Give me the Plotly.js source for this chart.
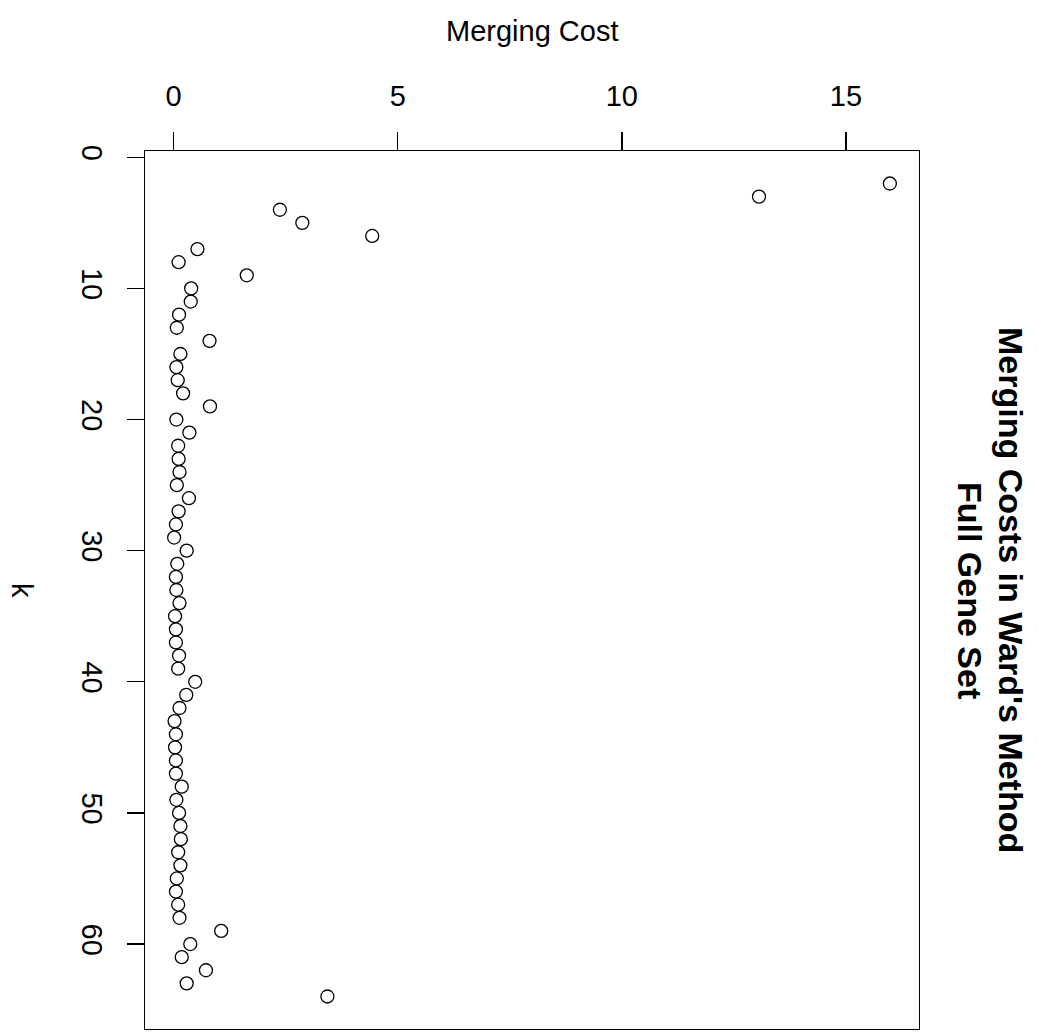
<!DOCTYPE html>
<html>
<head>
<meta charset="utf-8">
<script src="https://cdn.plot.ly/plotly-3.0.1.min.js"></script>
<style>html,body{margin:0;padding:0;background:#fff;}#chart{width:1039px;height:1036px;}</style>
</head>
<body>
<div id="chart"></div>
<script>
// k (number of clusters) and the merging cost at that step
var kValues = [2,3,4,5,6,7,8,9,10,11,12,13,14,15,16,17,18,19,20,21,22,23,24,25,26,27,28,29,30,31,32,33,
               34,35,36,37,38,39,40,41,42,43,44,45,46,47,48,49,50,51,52,53,54,55,56,57,58,59,60,61,62,63,64];
var mergingCost = [15.98,13.06,2.37,2.87,4.43,0.53,0.11,1.63,0.39,0.38,0.12,0.07,0.80,0.15,0.06,0.09,
                   0.21,0.81,0.06,0.35,0.10,0.11,0.13,0.07,0.34,0.11,0.05,0.01,0.29,0.08,0.05,0.06,
                   0.13,0.03,0.05,0.05,0.12,0.10,0.48,0.28,0.13,0.02,0.05,0.03,0.05,0.05,0.18,0.06,
                   0.12,0.15,0.16,0.10,0.15,0.07,0.05,0.10,0.13,1.06,0.37,0.18,0.72,0.29,3.43];
var costTicks = [0,5,10,15];
var kTicks = [0,10,20,30,40,50,60];
var titleLines = ["Merging Costs in Ward's Method", "Full Gene Set"];
var costLabel = "Merging Cost";
var kLabel = "k";

var font = "Liberation Sans, Arial, Helvetica, sans-serif";

var trace = {
  x: mergingCost,
  y: kValues,
  type: 'scatter',
  mode: 'markers',
  marker: {symbol: 'circle-open', size: 13, color: '#000', line: {width: 1.3, color: '#000'}},
  hoverinfo: 'x+y'
};

var layout = {
  width: 1039, height: 1036,
  margin: {l: 145, r: 120, t: 151, b: 7},
  paper_bgcolor: '#fff', plot_bgcolor: '#fff',
  showlegend: false,
  font: {family: font, color: '#000', size: 29},
  xaxis: {
    side: 'top', range: [-0.64, 16.63], tickvals: costTicks, ticktext: costTicks.map(String),
    ticks: 'outside', ticklen: 18, tickwidth: 1.3, tickcolor: '#000',
    showline: true, mirror: true, linecolor: '#000', linewidth: 1.3,
    showgrid: false, zeroline: false, tickfont: {family: font, size: 29, color: '#000'},
    ticklabelstandoff: 14
  },
  yaxis: {
    range: [66.48, -0.48], tickvals: kTicks, ticktext: kTicks.map(String), tickangle: 90,
    ticks: 'outside', ticklen: 17, tickwidth: 1.3, tickcolor: '#000',
    showline: true, mirror: true, linecolor: '#000', linewidth: 1.3,
    showgrid: false, zeroline: false, tickfont: {family: font, size: 29, color: '#000'},
    ticklabelstandoff: 10
  },
  annotations: [
    {text: costLabel, xref: 'paper', yref: 'paper', x: 0.5, y: 1.1367, xanchor: 'center', yanchor: 'middle',
     showarrow: false, font: {family: font, size: 29, color: '#000'}},
    {text: kLabel, xref: 'paper', yref: 'paper', x: -0.1589, y: 0.5, xanchor: 'center', yanchor: 'middle',
     textangle: 90, showarrow: false, font: {family: font, size: 29, color: '#000'}},
    {text: '<b>' + titleLines[0] + '</b>', xref: 'paper', yref: 'paper',
     x: 1.1189, y: 0.5, xanchor: 'center', yanchor: 'middle', textangle: 90, showarrow: false,
     font: {family: font, size: 34, color: '#000'}},
    {text: '<b>' + titleLines[1] + '</b>', xref: 'paper', yref: 'paper',
     x: 1.0659, y: 0.5, xanchor: 'center', yanchor: 'middle', textangle: 90, showarrow: false,
     font: {family: font, size: 34, color: '#000'}}
  ]
};

Plotly.newPlot('chart', [trace], layout, {displayModeBar: false, staticPlot: true});
</script>
</body>
</html>
